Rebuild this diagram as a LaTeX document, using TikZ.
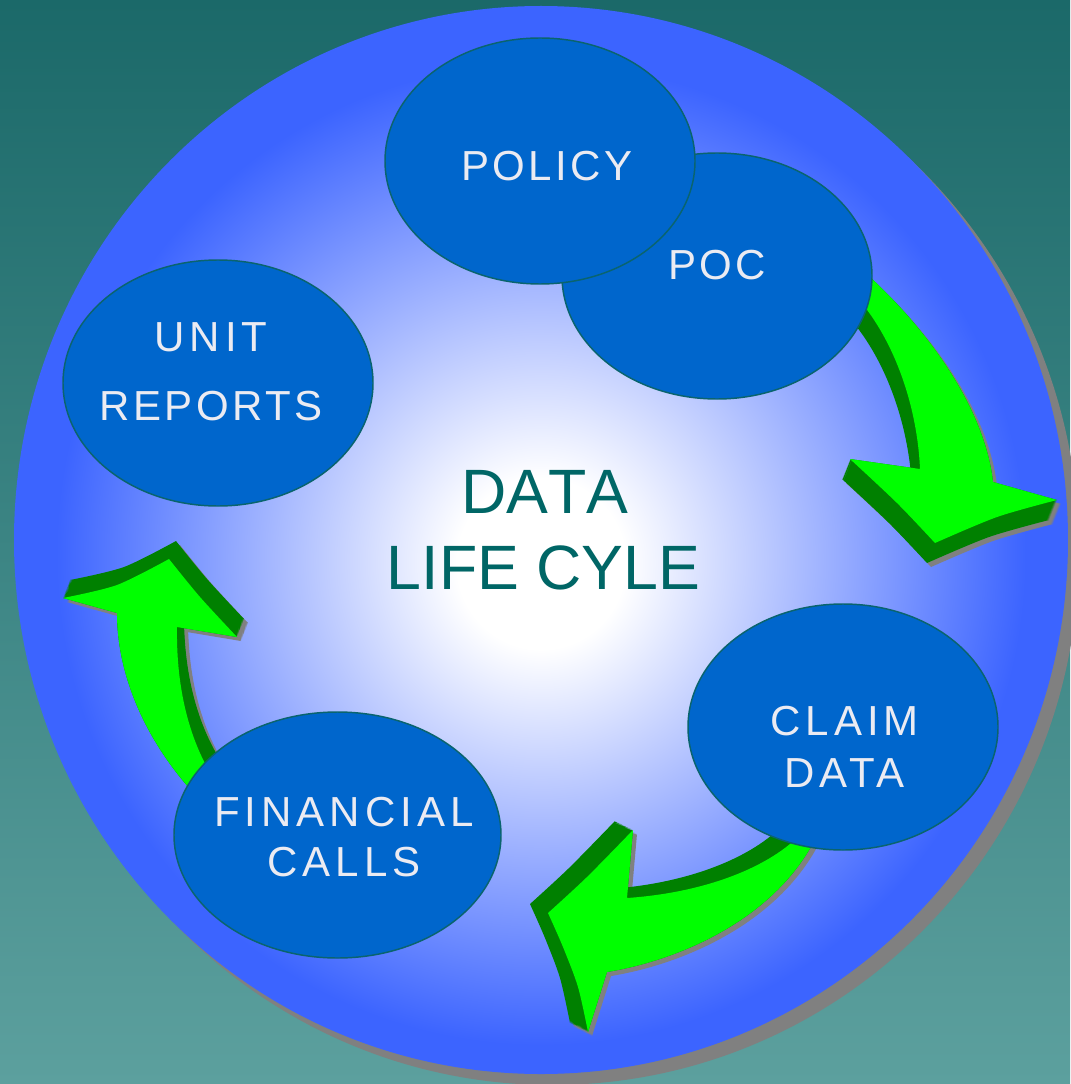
\documentclass[tikz,border=0pt]{standalone}
\usepackage{fontspec}
\setmainfont{Liberation Sans}
\newfontfamily\labfont[LetterSpace=12]{Liberation Sans}
\newfontfamily\labfontn[LetterSpace=8]{Liberation Sans}
\newfontfamily\titlefont[Kerning=Off]{Liberation Sans}
\usetikzlibrary{shapes.geometric}
\definecolor{bgtop}{RGB}{27,105,105}
\definecolor{bgbot}{RGB}{92,160,158}
\definecolor{ballblue}{RGB}{60,100,255}
\definecolor{ellfill}{RGB}{0,102,204}
\definecolor{ellline}{RGB}{10,100,110}
\definecolor{labtext}{RGB}{235,235,242}
\definecolor{titletext}{RGB}{0,102,102}
\definecolor{arrface}{RGB}{0,255,0}
\definecolor{arrside}{RGB}{0,128,0}
\definecolor{arrshadow}{RGB}{128,128,128}
\pgfdeclareradialshading{ballshade}{\pgfpoint{0bp}{-1.2bp}}{color(0bp)=(white); color(4bp)=(white); color(23bp)=(ballblue); color(50bp)=(ballblue)}
\newcommand\faceA{(855,262) -- (860,268) .. controls (930,330) and (985,410) .. (993,482) -- (1057,500) -- plot[smooth] coordinates {(1057,500) (997,517) (935,543)} -- plot[smooth] coordinates {(935,543) (897,503) (850,459)} -- (920,469) .. controls (917,400) and (890,330) .. (850,290) -- cycle}
\newcommand\faceB{(815,835) -- (812,845) .. controls (770,920) and (680,960) .. (607,972) -- (588,1032) -- plot[smooth] coordinates {(588,1032) (578,987) (563,947) (548,913)} -- plot[smooth] coordinates {(548,913) (587,877) (633,830)} -- (627,898) .. controls (700,893) and (765,870) .. (800,835) -- cycle}
\newcommand\faceC{(205,805) .. controls (150,750) and (117,680) .. (117,613) -- (63,598) -- plot[smooth] coordinates {(63,598) (117,585) (169,559)} -- plot[smooth] coordinates {(169,559) (200,597) (237,637)} -- (177,627) .. controls (176,690) and (190,750) .. (225,795) -- cycle}
\tikzset{
  ell/.style={ellipse, draw=ellline, line width=1.1pt, fill=ellfill, inner sep=0pt, minimum height=184.5pt, minimum width=232.5pt},
  lab/.style={text=labtext, inner sep=0pt, anchor=base, font=\labfont\fontsize{31.5}{36}\selectfont},
  labn/.style={lab, font=\labfontn\fontsize{31.5}{36}\selectfont},
  titlelab/.style={text=titletext, inner sep=0pt, anchor=base, font=\titlefont\fontsize{47}{56}\selectfont},
}
\begin{document}
\begin{tikzpicture}[x=0.75pt,y=-0.75pt]
\useasboundingbox (0,0) rectangle (1070,1084);
\shade[top color=bgtop, bottom color=bgbot] (0,0) rectangle (1070,1084);
% big disc with shadow
\fill[arrshadow] (552,551) ellipse [x radius=527, y radius=534];
\shade[shading=ballshade] (541,540) ellipse [x radius=527, y radius=534];
% arrow 1: POC -> CLAIM DATA
\foreach \i in {0,...,20} {\fill[arrshadow, shift={({4-8*\i/20},{4+20*\i/20})}] \faceA;}
\foreach \i in {0,...,20} {\fill[arrside, shift={({-8*\i/20},{20*\i/20})}] \faceA;}
\fill[arrface] \faceA;
% arrow 2: CLAIM DATA -> FINANCIAL CALLS
\foreach \i in {0,...,20} {\fill[arrshadow, shift={({4-18*\i/20},{4-9*\i/20})}] \faceB;}
\foreach \i in {0,...,20} {\fill[arrside, shift={({-18*\i/20},{-9*\i/20})}] \faceB;}
\fill[arrface] \faceB;
% arrow 3: FINANCIAL CALLS -> UNIT REPORTS
\foreach \i in {0,...,20} {\fill[arrshadow, shift={({4+7*\i/20},{4-18*\i/20})}] \faceC;}
\foreach \i in {0,...,20} {\fill[arrside, shift={({7*\i/20},{-18*\i/20})}] \faceC;}
\fill[arrface] \faceC;
% ellipses
\node[ell] (poc) at (717,276) {};
\node[ell] (policy) at (540,161) {};
\node[ell] (unit) at (218,383) {};
\node[ell] (claim) at (843,727) {};
\node[ell, minimum width=245.25pt] (fin) at (337.5,835) {};
% labels
\node[labn] (t-policy) at (547,180.7) {POLICY};
\node[labn] (t-poc) at (717,279) {POC};
\node[lab] (t-unit) at (211,351.6) {UNIT};
\node[labn] (t-reports) at (211,420.4) {REPORTS};
\node[lab] (t-claim) at (844.5,735) {CLAIM};
\node[lab] (t-cdata) at (844.5,787) {DATA};
\node[lab] (t-fin) at (344,826) {FINANCIAL};
\node[lab] (t-calls) at (344,876) {CALLS};
\node[titlelab] (t-data) at (545,513) {DATA};
\node[titlelab] (t-life) at (543.5,589) {LIFE CYLE};
\end{tikzpicture}
\end{document}
